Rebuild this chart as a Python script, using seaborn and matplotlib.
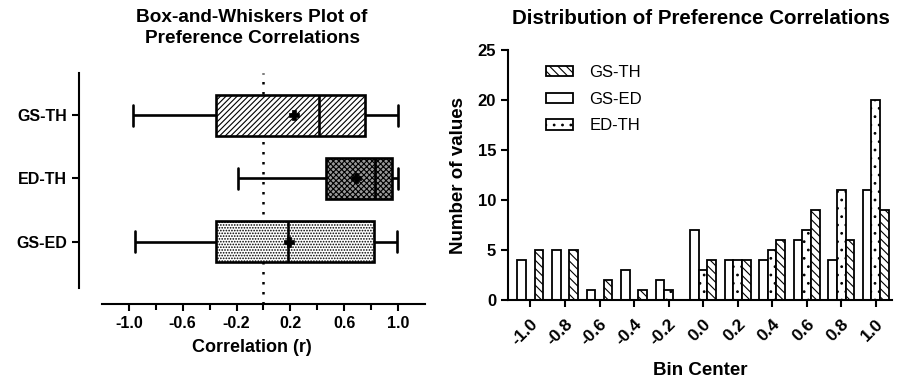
import numpy as np
import pandas as pd
import matplotlib
matplotlib.use("Agg")
import matplotlib.pyplot as plt
import seaborn as sns
from matplotlib.patches import Patch
from matplotlib.ticker import MultipleLocator, FixedLocator

# ---------------- data ----------------
pairs = ["GS-TH", "ED-TH", "GS-ED"]
box_min = [-0.97, -0.19, -0.955]
box_q1 = [-0.35, 0.467, -0.356]
box_med = [0.41, 0.83, 0.18]
box_q3 = [0.755, 0.958, 0.822]
box_max = [1.0, 1.0, 0.995]
box_mean = [0.23, 0.69, 0.19]

bin_centers = ["-1.0", "-0.8", "-0.6", "-0.4", "-0.2", "0.0", "0.2", "0.4", "0.6", "0.8", "1.0"]
counts_gs_ed = [4, 5, 1, 3, 2, 7, 4, 4, 6, 4, 11]
counts_ed_th = [0, 0, 0, 0, 1, 3, 4, 5, 7, 11, 20]
counts_gs_th = [5, 5, 2, 1, 0, 4, 4, 6, 9, 6, 9]

# ---------------- style ----------------
sns.set_style("ticks")
plt.rcParams["font.family"] = ["Liberation Sans", "DejaVu Sans"]
plt.rcParams["hatch.linewidth"] = 0.8
plt.rcParams["axes.linewidth"] = 1.5
for k in ("text.color", "axes.labelcolor", "xtick.color", "ytick.color", "axes.edgecolor"):
    plt.rcParams[k] = "black"

fig = plt.figure(figsize=(8.99, 3.80), dpi=100)

# ---------------- box plot ----------------
ax1 = fig.add_axes([79 / 899, 1 - 304 / 380, (425 - 79) / 899, (304 - 73) / 380])
rows = []
for p, a, b, c, d, e in zip(pairs, box_min, box_q1, box_med, box_q3, box_max):
    for v in (a, b, c, d, e):
        rows.append({"pair": p, "r": v})
box_df = pd.DataFrame(rows)

sns.boxplot(data=box_df, x="r", y="pair", order=pairs, whis=(0, 100),
            width=0.65, color="white", linecolor="black", linewidth=1.9,
            ax=ax1)
box_hatches = ["//////", "xxxxxx", "......"]
box_faces = ["white", "#9a9a9a", "white"]
for patch, h, fc in zip(ax1.patches, box_hatches, box_faces):
    patch.set_hatch(h)
    patch.set_edgecolor("black")
    patch.set_facecolor(fc)

mean_df = pd.DataFrame({"pair": pairs, "mean": box_mean})
sns.scatterplot(data=mean_df, x="mean", y="pair", marker="P", s=60,
                color="black", edgecolor="black", linewidth=0.5, ax=ax1,
                zorder=5, legend=False)

ax1.axvline(0, ls=(0, (1, 3)), color="black", lw=1.8, zorder=0.5)
ax1.set_xlim(-1.37, 1.2)
ax1.set_ylim(2.99, -0.67)
ax1.spines["bottom"].set_bounds(-1.2, 1.2)
ax1.spines["left"].set_bounds(-0.67, 2.73)
for s in ("top", "right"):
    ax1.spines[s].set_visible(False)
ax1.set_xticks([-1.0, -0.6, -0.2, 0.2, 0.6, 1.0])
ax1.set_xticklabels(["-1.0", "-0.6", "-0.2", "0.2", "0.6", "1.0"])
ax1.xaxis.set_minor_locator(FixedLocator([-0.8, -0.4, 0.0, 0.4, 0.8]))
ax1.tick_params(axis="both", which="major", length=5, width=1.5, labelsize=11.5)
ax1.tick_params(axis="x", which="minor", length=4, width=1.5)
for t in ax1.get_xticklabels() + ax1.get_yticklabels():
    t.set_fontweight("bold")
ax1.set_xlabel("Correlation (r)", fontsize=13, fontweight="bold", labelpad=6)
ax1.set_ylabel("")
fig.text(252 / 899, 1 - 28 / 380, "Box-and-Whiskers Plot of\nPreference Correlations",
         ha="center", va="center", fontsize=13.7, fontweight="bold", linespacing=1.3)

# ---------------- histogram ----------------
ax2 = fig.add_axes([508 / 899, 1 - 300 / 380, (892 - 508) / 899, (300 - 50) / 380])
hue_order = ["GS-ED", "ED-TH", "GS-TH"]
hist_df = pd.DataFrame({
    "bin": bin_centers * 3,
    "count": counts_gs_ed + counts_ed_th + counts_gs_th,
    "pair": ["GS-ED"] * 11 + ["ED-TH"] * 11 + ["GS-TH"] * 11,
})
sns.barplot(data=hist_df, x="bin", y="count", hue="pair", order=bin_centers,
            hue_order=hue_order, width=0.75, palette=["white"] * 3,
            edgecolor="black", linewidth=1.3, ax=ax2, legend=False)
hist_hatches = {"GS-ED": "", "ED-TH": "..", "GS-TH": "\\\\\\\\"}
for cont, name in zip(ax2.containers, hue_order):
    for bar in cont:
        bar.set_hatch(hist_hatches[name])
        bar.set_facecolor("white")
        bar.set_edgecolor("black")

ax2.set_xlim(-0.65, 10.47)
ax2.set_ylim(0, 25)
ax2.yaxis.set_major_locator(MultipleLocator(5))
for s in ("top", "right"):
    ax2.spines[s].set_visible(False)
ax2.tick_params(axis="both", length=5, width=1.5, labelsize=12)
ax2.tick_params(axis="x", labelsize=12.5, pad=7)
ax2.set_xticks(range(len(bin_centers)))
ax2.set_xticklabels(bin_centers, rotation=45, ha="right", rotation_mode="anchor",
                    fontweight="bold")
for t in ax2.get_yticklabels():
    t.set_fontweight("bold")
ax2.set_xlabel("Bin Center", fontsize=13.5, fontweight="bold", labelpad=10)
ax2.set_ylabel("Number of values", fontsize=13.5, fontweight="bold", labelpad=8)
fig.text(701 / 899, 1 - 19 / 380, "Distribution of Preference Correlations",
         ha="center", va="center", fontsize=14.8, fontweight="bold")

handles = [Patch(facecolor="white", edgecolor="black", hatch=hist_hatches[n], lw=1.3, label=n)
           for n in ["GS-TH", "GS-ED", "ED-TH"]]
ax2.legend(handles=handles, loc="upper left", bbox_to_anchor=(0.06, 1.0), frameon=False,
           fontsize=12, handlelength=1.6, handleheight=0.6, labelspacing=0.7,
           handletextpad=1.0)

fig.savefig("out.png", dpi=100)
